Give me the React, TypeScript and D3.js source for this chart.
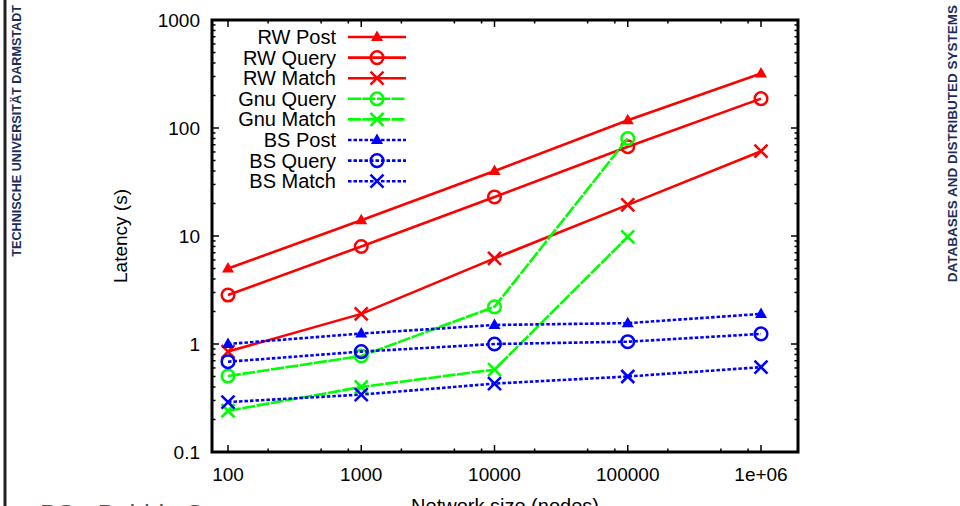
import React from "react";
import * as d3 from "d3";

const xCategories = [100, 1000, 10000, 100000, 1000000];
const xTickLabels = ["100", "1000", "10000", "100000", "1e+06"];
const yTickValues = [0.1, 1, 10, 100, 1000];
const yTickLabels = ["0.1", "1", "10", "100", "1000"];

const rwPost = [5, 14, 40, 118, 320];
const rwQuery = [2.84, 8, 23, 67, 187];
const rwMatch = [0.85, 1.9, 6.2, 19.4, 61];
const gnuQuery = [0.505, 0.775, 2.21, 80];
const gnuMatch = [0.241, 0.4, 0.58, 9.8];
const bsPost = [1.0, 1.25, 1.5, 1.56, 1.9];
const bsQuery = [0.686, 0.85, 1.0, 1.05, 1.24];
const bsMatch = [0.29, 0.34, 0.43, 0.5, 0.61];

type Marker = "tri" | "circle" | "cross";
const series: { name: string; values: number[]; color: string; dash: string; marker: Marker }[] = [
  { name: "RW Post", values: rwPost, color: "#ff0000", dash: "none", marker: "tri" },
  { name: "RW Query", values: rwQuery, color: "#ff0000", dash: "none", marker: "circle" },
  { name: "RW Match", values: rwMatch, color: "#ff0000", dash: "none", marker: "cross" },
  { name: "Gnu Query", values: gnuQuery, color: "#00ff00", dash: "13,1.5", marker: "circle" },
  { name: "Gnu Match", values: gnuMatch, color: "#00ff00", dash: "13,1.5", marker: "cross" },
  { name: "BS Post", values: bsPost, color: "#0000ff", dash: "3.5,2", marker: "tri" },
  { name: "BS Query", values: bsQuery, color: "#0000ff", dash: "3.5,2", marker: "circle" },
  { name: "BS Match", values: bsMatch, color: "#0000ff", dash: "3.5,2", marker: "cross" },
];

const FL = 212, FR = 798, FT = 20, FB = 452;
const x = d3.scaleLog().domain([100, 1e6]).range([228, 761]);
const y = d3.scaleLog().domain([0.1, 1000]).range([FB, FT]);

function MarkerShape({ type, cx, cy, color }: { type: Marker; cx: number; cy: number; color: string }) {
  if (type === "tri") {
    return <path d={`M${cx},${cy - 6.5}L${cx + 6},${cy + 4}L${cx - 6},${cy + 4}Z`} fill={color} />;
  }
  if (type === "circle") {
    return <circle cx={cx} cy={cy} r={6.3} fill="none" stroke={color} strokeWidth={2.5} />;
  }
  const s = 6.5;
  return (
    <path
      d={`M${cx - s},${cy - s}L${cx + s},${cy + s}M${cx - s},${cy + s}L${cx + s},${cy - s}`}
      stroke={color}
      strokeWidth={2.6}
      fill="none"
    />
  );
}

export default function App() {
  const line = d3
    .line<number>()
    .x((_, i) => x(xCategories[i]))
    .y((d) => y(d));

  const xMinor: number[] = [];
  for (let p = 2; p <= 5; p++) {
    for (const m of [2, 5, 8]) xMinor.push(m * Math.pow(10, p));
  }
  const yMinor: number[] = [];
  for (let p = -1; p <= 2; p++) {
    for (let m = 2; m <= 9; m++) yMinor.push(m * Math.pow(10, p));
  }

  const font = "'Liberation Sans', Arial, Helvetica, sans-serif";
  const legendY = (i: number) => 37 + i * 20.6;

  return (
    <svg width={960} height={506} style={{ position: "absolute", left: 0, top: 0, background: "#fff" }}>
      <rect x={0} y={0} width={960} height={506} fill="#fff" />
      {/* left decoration */}
      <line x1={5} y1={0} x2={5} y2={506} stroke="#222" strokeWidth={3} />
      <text
        transform="translate(21,5) rotate(-90)"
        textAnchor="end"
        fontFamily={font}
        fontWeight="bold"
        fontSize={12.6}
        fill="#1c2d5a"
      >
        TECHNISCHE UNIVERSITÄT DARMSTADT
      </text>
      <text
        transform="translate(957,5) rotate(-90)"
        textAnchor="end"
        fontFamily={font}
        fontWeight="bold"
        fontSize={13.5}
        fill="#1c2d5a"
      >
        DATABASES AND DISTRIBUTED SYSTEMS
      </text>
      <text x={40} y={523} fontFamily={font} fontSize={26} fill="#555">
        BS - Bubble Storm
      </text>

      {/* ticks */}
      <g stroke="#000" strokeWidth={1.5}>
        {xCategories.map((v) => (
          <g key={"xm" + v}>
            <line x1={x(v)} x2={x(v)} y1={FB} y2={FB - 7} />
            <line x1={x(v)} x2={x(v)} y1={FT} y2={FT + 7} />
          </g>
        ))}
        {xMinor.map((v) => (
          <g key={"xn" + v}>
            <line x1={x(v)} x2={x(v)} y1={FB} y2={FB - 3.5} />
            <line x1={x(v)} x2={x(v)} y1={FT} y2={FT + 3.5} />
          </g>
        ))}
        {yTickValues.map((v) => (
          <g key={"ym" + v}>
            <line x1={FL} x2={FL + 7} y1={y(v)} y2={y(v)} />
            <line x1={FR} x2={FR - 7} y1={y(v)} y2={y(v)} />
          </g>
        ))}
        {yMinor.map((v) => (
          <g key={"yn" + v}>
            <line x1={FL} x2={FL + 3.5} y1={y(v)} y2={y(v)} />
            <line x1={FR} x2={FR - 3.5} y1={y(v)} y2={y(v)} />
          </g>
        ))}
      </g>

      {/* tick labels */}
      <g fontFamily={font} fontSize={19} fill="#000">
        {xCategories.map((v, i) => (
          <text key={"xl" + v} x={x(v)} y={481} textAnchor="middle">
            {xTickLabels[i]}
          </text>
        ))}
        {yTickValues.map((v, i) => (
          <text key={"yl" + v} x={200} y={y(v) + 7} textAnchor="end">
            {yTickLabels[i]}
          </text>
        ))}
      </g>

      {/* axis labels */}
      <text
        transform={`translate(127,${(FT + FB) / 2}) rotate(-90)`}
        textAnchor="middle"
        fontFamily={font}
        fontSize={19}
      >
        Latency (s)
      </text>
      <text x={505} y={513} textAnchor="middle" fontFamily={font} fontSize={20}>
        Network size (nodes)
      </text>

      {/* series */}
      {series.map((s) => (
        <g key={s.name}>
          <path
            d={line(s.values) || ""}
            fill="none"
            stroke={s.color}
            strokeWidth={2.6}
            strokeDasharray={s.dash}
          />
          {s.values.map((v, i) => (
            <MarkerShape key={i} type={s.marker} cx={x(xCategories[i])} cy={y(v)} color={s.color} />
          ))}
        </g>
      ))}

      {/* legend */}
      <g fontFamily={font} fontSize={20}>
        {series.map((s, i) => (
          <g key={"lg" + s.name}>
            <text x={336} y={legendY(i) + 7} textAnchor="end">
              {s.name}
            </text>
            <line
              x1={348}
              x2={406}
              y1={legendY(i)}
              y2={legendY(i)}
              stroke={s.color}
              strokeWidth={2.6}
              strokeDasharray={s.dash}
            />
            <MarkerShape type={s.marker} cx={377} cy={legendY(i)} color={s.color} />
          </g>
        ))}
      </g>

      {/* frame */}
      <rect x={FL} y={FT} width={FR - FL} height={FB - FT} fill="none" stroke="#000" strokeWidth={3} />
    </svg>
  );
}
